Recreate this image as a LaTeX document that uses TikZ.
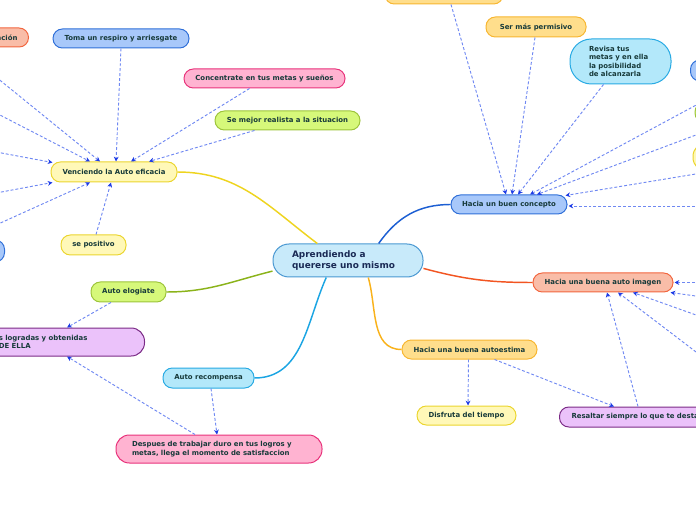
\documentclass[tikz,border=0pt]{standalone}
\usepackage{fontspec}
\setmainfont{DejaVu Sans}
\usetikzlibrary{arrows.meta,calc}
\definecolor{txt}{HTML}{173A3A}
\definecolor{ctxt}{HTML}{1A2A55}
\definecolor{fblue}{HTML}{A8C8FA}\definecolor{dblue}{HTML}{2F6FD8}
\definecolor{fyel}{HTML}{FFF8B8}\definecolor{dyel}{HTML}{EBD52E}
\definecolor{fpink}{HTML}{FFB3D1}\definecolor{dpink}{HTML}{E8337B}
\definecolor{flime}{HTML}{D6F87A}\definecolor{dlime}{HTML}{9DC43B}
\definecolor{fsal}{HTML}{F9BDA8}\definecolor{dsal}{HTML}{F2663F}
\definecolor{forg}{HTML}{FFDE8C}\definecolor{dorg}{HTML}{F7B631}
\definecolor{fcyan}{HTML}{B3E8FA}\definecolor{dcyan}{HTML}{28AAE3}
\definecolor{fpur}{HTML}{EBC2FA}\definecolor{dpur}{HTML}{7B2B86}
\definecolor{fctr}{HTML}{C8EAFA}\definecolor{dctr}{HTML}{4A98D2}
\definecolor{cyel}{HTML}{EED41F}\definecolor{cgrn}{HTML}{8BB31A}
\definecolor{ccyan}{HTML}{1BA5E3}\definecolor{cblue}{HTML}{1D5FD3}
\definecolor{cred}{HTML}{F25522}\definecolor{corg}{HTML}{F9B21B}
\definecolor{dashcol}{HTML}{6F88F2}\definecolor{arrowc}{HTML}{1E3CE6}
\begin{document}
\begin{tikzpicture}[x=0.75pt,y=-0.75pt,
  box/.style={rounded corners=7pt, line width=0.75pt, inner sep=0pt,
    font=\bfseries\fontsize{5.2}{6.3}\selectfont, text=txt, minimum height=14.25pt},
  nblue/.style={box, fill=fblue, draw=dblue},
  nyel/.style={box, fill=fyel, draw=dyel},
  npink/.style={box, fill=fpink, draw=dpink},
  nlime/.style={box, fill=flime, draw=dlime},
  nsal/.style={box, fill=fsal, draw=dsal},
  norg/.style={box, fill=forg, draw=dorg},
  ncyan/.style={box, fill=fcyan, draw=dcyan},
  npur/.style={box, fill=fpur, draw=dpur},
  br/.style={line width=1.1pt},
  dl/.style={draw=dashcol, line width=0.7pt, dash pattern=on 2.2pt off 1.5pt,
    -{Stealth[length=3.6pt,width=3.6pt,color=arrowc]}}]
\useasboundingbox (0,0) rectangle (696,520);
\clip (0,0) rectangle (696,520);

% central node
\node[box, fill=fctr, draw=dctr, rounded corners=12pt, minimum width=112.5pt,
  minimum height=24.75pt, text width=84pt, align=left, text=ctxt,
  font=\bfseries\fontsize{6.7}{8.25}\selectfont] (c) at (348,260.5)
  {Aprendiendo a\\quererse uno mismo};

% left branch nodes
\node[nyel, minimum width=94.5pt, minimum height=15pt] (v) at (114,172) {Venciendo la Auto eficacia};
\node[nblue, minimum width=102pt] (toma) at (121,38.5) {Toma un respiro y arriesgate};
\node[npink, minimum width=120.75pt] (conc) at (264.5,78.5) {Concentrate en tus metas y sueños};
\node[nlime, minimum width=108.75pt] (mejor) at (287.5,120.5) {Se mejor realista a la situacion};
\node[nyel, minimum width=48.75pt, minimum height=15pt] (sepos) at (93.5,245) {se positivo};
\node[nsal, minimum width=75pt, text width=58.5pt, align=right, inner xsep=8.25pt, anchor=east] (aci) at (29,37.5) {ación};
\node[nblue, minimum width=45pt, minimum height=16.5pt, anchor=east] (lblue) at (5,251) {};
\node[nlime, minimum width=56.25pt, minimum height=15pt] (elog) at (128.5,292) {Auto elogiate};
\node[npur, rounded corners=10pt, minimum height=21pt, align=left, inner xsep=42.75pt,
  font=\bfseries\fontsize{5.2}{6.2}\selectfont, anchor=east] (pur) at (145,342)
  {s logradas y obtenidas\\DE ELLA};
\node[ncyan, minimum width=68.25pt, minimum height=15pt] (recomp) at (208.5,378) {Auto recompensa};
\node[npink, rounded corners=10pt, minimum width=154.5pt, minimum height=21pt, text width=130.5pt,
  align=left, font=\bfseries\fontsize{5.2}{6.2}\selectfont] (desp) at (219,449)
  {Despues de trabajar duro en tus logros y\\metas, llega el momento de satisfaccion};

% right branch nodes
\node[nblue, minimum width=87pt] (hbc) at (509,204.5) {Hacia un buen concepto};
\node[norg, minimum width=88.5pt, minimum height=18pt, anchor=south] (topo) at (444,4.5) {};
\node[norg, minimum width=75pt, minimum height=15pt] (perm) at (536,27) {Ser más permisivo};
\node[ncyan, rounded corners=16pt, minimum width=75.75pt, minimum height=33.75pt, text width=47.25pt,
  align=left, font=\bfseries\fontsize{5.2}{6.4}\selectfont] (rev) at (620.5,61.5)
  {Revisa tus\\metas y en ella\\la posibilidad\\de alcanzarla};
\node[nblue, minimum width=45pt, minimum height=15.75pt, anchor=west] (rblue) at (690,70.5) {};
\node[nlime, minimum width=45pt, minimum height=15pt, anchor=west] (rgreen) at (694.5,112.5) {};
\node[nyel, rounded corners=10pt, minimum width=45pt, minimum height=21pt, anchor=west] (ryel) at (692.5,157) {};
\node[nsal, minimum width=105pt] (img) at (603,282.5) {Hacia una buena auto imagen};
\node[norg, minimum width=101.25pt] (ae) at (469.5,349.5) {Hacia una buena autoestima};
\node[nyel, minimum width=74.25pt] (disf) at (466.5,415.5) {Disfruta del tiempo};
\node[npur, minimum width=150pt, minimum height=15pt, text width=132pt, align=left, anchor=west] (res) at (559,417)
  {Resaltar siempre lo que te desta};

% free ends of connectors coming from outside the frame
\coordinate (L1) at (-4,77);
\coordinate (L2) at (-4,113);
\coordinate (L3) at (-4,152);
\coordinate (L4) at (-4,193);
\coordinate (L5) at (-4,225);
\coordinate (R1) at (700,103);
\coordinate (R2) at (700,133.5);
\coordinate (R3) at (700,173.3);
\coordinate (R4) at (700,206);
\coordinate (R5) at (700,282.5);
\coordinate (R6) at (700,296.6);
\coordinate (R7) at (700,316.4);
\coordinate (R8) at (700,355);

% main branches
\draw[br, draw=cyel] (v.east) to[out=0,in=143] (c.151);
\draw[br, draw=cgrn] (elog.east) to[out=0,in=194] (c.188);
\draw[br, draw=ccyan] (recomp.east) to[out=0,in=246] (c.218);
\draw[br, draw=cblue] (hbc.west) to[out=180,in=55] (c.29);
\draw[br, draw=cred] (img.west) to[out=180,in=-15] (c.354);
\draw[br, draw=corg] (ae.west) to[out=180,in=-74] (c.320);

% dashed relations: Venciendo
\draw[dl] (toma.south) -- ($(v.north)+(2,0)$);
\draw[dl] ($(conc.south)+(-15,0)$) -- ($(v.north)+(17,0)$);
\draw[dl] ($(mejor.south)+(-33,0)$) -- ($(v.north)+(35,0)$);
\draw[dl] ($(sepos.north)+(2.5,0)$) -- ($(v.south)+(-3,0)$);
\draw[dl] (L1) -- ($(v.north)+(-14,0)$);
\draw[dl] (L2) -- ($(v.north)+(-24,0)$);
\draw[dl] (L3) -- ($(v.north west)+(2,1)$);
\draw[dl] (L4) -- ($(v.south west)+(2,0)$);
\draw[dl] (L5) -- ($(v.south)+(-24,0)$);

% dashed relations: buen concepto
\draw[dl] ($(topo.south)+(7,0)$) -- ($(hbc.north)+(-3,0)$);
\draw[dl] ($(perm.south)+(-1,0)$) -- ($(hbc.north)+(3,0)$);
\draw[dl] ($(rev.south)+(-17,0)$) -- ($(hbc.north)+(9,0)$);
\draw[dl] (R1) -- ($(hbc.north)+(21,0)$);
\draw[dl] (R2) -- ($(hbc.north)+(28,0)$);
\draw[dl] (R3) -- ($(hbc.north east)+(-2,1)$);
\draw[dl] (R4) -- ($(hbc.east)+(1,1.5)$);

% dashed relations: auto imagen
\draw[dl] (R5) -- ($(img.east)+(1,0)$);
\draw[dl] (R6) -- ($(img.south east)+(-3,0)$);
\draw[dl] (R7) -- ($(img.south)+(30,0)$);
\draw[dl] (R8) -- ($(img.south)+(15,0)$);
\draw[dl] ($(res.north west)+(79,0)$) -- ($(img.south)+(4,0)$);

% dashed relations: autoestima
\draw[dl] ($(ae.south)+(-1,0)$) -- ($(disf.north)+(1.5,0)$);
\draw[dl] ($(ae.south)+(25,0)$) -- ($(res.north west)+(55,0)$);

% dashed relations: left lower
\draw[dl] ($(elog.south)+(-17.5,0)$) -- ($(pur.north east)+(-78,0)$);
\draw[dl] ($(desp.north)+(-24,0)$) -- ($(pur.south east)+(-78,0)$);
\draw[dl] ($(recomp.south)+(2.5,0)$) -- ($(desp.north)+(-2,0)$);
\end{tikzpicture}
\end{document}
